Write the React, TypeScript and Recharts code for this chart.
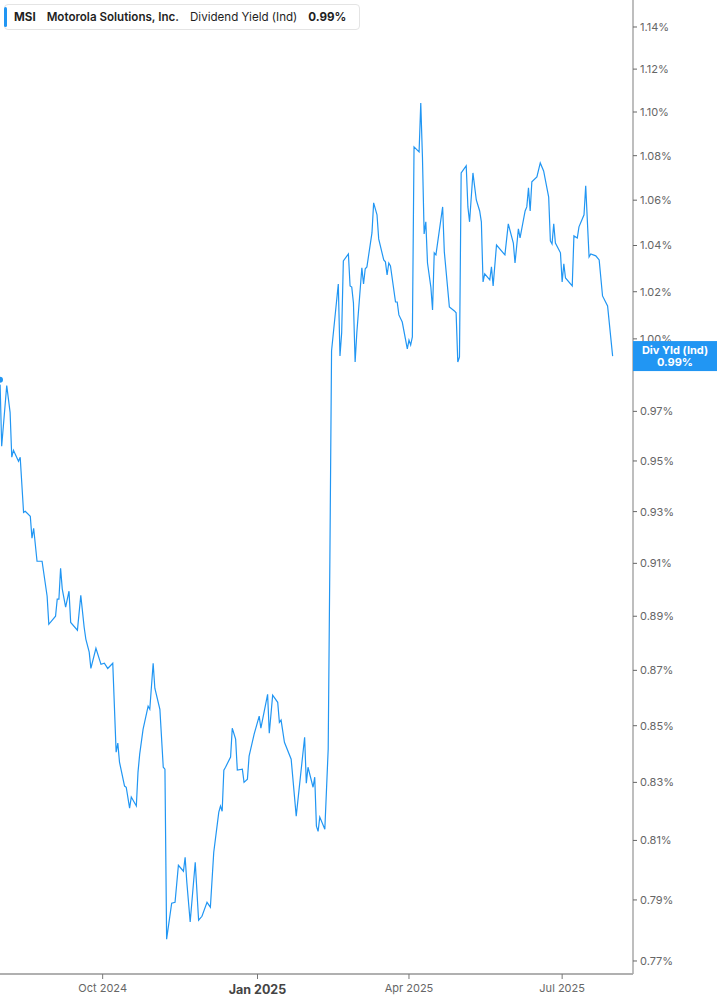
import React from 'react';
import { LineChart, Line, XAxis, YAxis, ReferenceLine } from 'recharts';

const dates = [
  '2024-08-01','2024-08-02','2024-08-05','2024-08-07','2024-08-08','2024-08-09','2024-08-12','2024-08-13','2024-08-15','2024-08-16',
  '2024-08-19','2024-08-20','2024-08-21','2024-08-23','2024-08-26','2024-08-29','2024-08-30','2024-09-03','2024-09-04','2024-09-05',
  '2024-09-06','2024-09-07','2024-09-09','2024-09-11','2024-09-12','2024-09-16','2024-09-18','2024-09-20','2024-09-21','2024-09-23',
  '2024-09-24','2024-09-27','2024-09-30','2024-10-02','2024-10-04','2024-10-07','2024-10-09','2024-10-10','2024-10-11','2024-10-14',
  '2024-10-15','2024-10-17','2024-10-18','2024-10-21','2024-10-22','2024-10-23','2024-10-25','2024-10-28','2024-10-29','2024-10-31',
  '2024-11-01','2024-11-04','2024-11-06','2024-11-07','2024-11-08','2024-11-11','2024-11-13','2024-11-15','2024-11-18','2024-11-19',
  '2024-11-20','2024-11-22','2024-11-25','2024-11-27','2024-11-29','2024-12-02','2024-12-04','2024-12-06','2024-12-09','2024-12-10',
  '2024-12-11','2024-12-12','2024-12-13','2024-12-16','2024-12-17','2024-12-19','2024-12-20','2024-12-23','2024-12-24','2024-12-26',
  '2024-12-27','2024-12-30','2025-01-02','2025-01-03','2025-01-07','2025-01-08','2025-01-10','2025-01-13','2025-01-14','2025-01-15',
  '2025-01-17','2025-01-21','2025-01-24','2025-01-29','2025-01-30','2025-01-31','2025-02-03','2025-02-04','2025-02-05','2025-02-06',
  '2025-02-07','2025-02-10','2025-02-12','2025-02-13','2025-02-14','2025-02-18','2025-02-19','2025-02-20','2025-02-21','2025-02-24',
  '2025-02-25','2025-02-26','2025-02-27','2025-02-28','2025-03-01','2025-03-04','2025-03-05','2025-03-06','2025-03-07','2025-03-10',
  '2025-03-11','2025-03-13','2025-03-14','2025-03-17','2025-03-18','2025-03-19','2025-03-20','2025-03-21','2025-03-24','2025-03-25',
  '2025-03-26','2025-03-28','2025-03-31','2025-04-01','2025-04-02','2025-04-03','2025-04-04','2025-04-07','2025-04-08','2025-04-09',
  '2025-04-10','2025-04-11','2025-04-12','2025-04-14','2025-04-15','2025-04-16','2025-04-17','2025-04-21','2025-04-22','2025-04-25',
  '2025-04-28','2025-04-29','2025-04-30','2025-05-01','2025-05-02','2025-05-05','2025-05-06','2025-05-07','2025-05-09','2025-05-11',
  '2025-05-13','2025-05-14','2025-05-15','2025-05-16','2025-05-19','2025-05-20','2025-05-21','2025-05-23','2025-05-28','2025-05-30',
  '2025-06-02','2025-06-03','2025-06-05','2025-06-06','2025-06-09','2025-06-10','2025-06-11','2025-06-12','2025-06-13','2025-06-16',
  '2025-06-18','2025-06-20','2025-06-23','2025-06-24','2025-06-25','2025-06-26','2025-06-27','2025-06-30','2025-07-01','2025-07-02',
  '2025-07-03','2025-07-07','2025-07-08','2025-07-10','2025-07-11','2025-07-14','2025-07-15','2025-07-17','2025-07-18','2025-07-21',
  '2025-07-23','2025-07-25','2025-07-28','2025-07-31',
];

const yields = [
  0.9830,0.9559,0.9806,0.9696,0.9515,0.9543,0.9499,0.9515,0.9297,0.9301,
  0.9282,0.9197,0.9235,0.9108,0.9108,0.8975,0.8870,0.8900,0.8964,0.8964,
  0.9081,0.9002,0.8934,0.8994,0.8877,0.8848,0.8979,0.8859,0.8815,0.8767,
  0.8707,0.8781,0.8722,0.8726,0.8707,0.8726,0.8406,0.8438,0.8371,0.8287,
  0.8283,0.8211,0.8249,0.8218,0.8336,0.8399,0.8487,0.8570,0.8559,0.8726,
  0.8635,0.8559,0.8353,0.8346,0.7771,0.7889,0.7892,0.8016,0.7996,0.8043,
  0.7959,0.7827,0.8026,0.7833,0.7846,0.7892,0.7876,0.8060,0.8197,0.8218,
  0.8200,0.8343,0.8353,0.8389,0.8491,0.8452,0.8343,0.8346,0.8300,0.8311,
  0.8392,0.8470,0.8534,0.8491,0.8613,0.8473,0.8610,0.8584,0.8512,0.8520,
  0.8441,0.8381,0.8183,0.8459,0.8297,0.8353,0.8283,0.8318,0.8149,0.8131,
  0.8180,0.8138,0.8417,0.9115,0.9950,1.0233,0.9928,1.0025,1.0333,1.0363,
  1.0225,1.0220,1.0152,0.9903,1.0025,1.0303,1.0233,1.0299,1.0307,1.0455,
  1.0588,1.0535,1.0429,1.0337,1.0329,1.0272,1.0324,1.0311,1.0156,1.0156,
  1.0101,1.0071,0.9958,0.9995,0.9974,1.0008,1.0840,1.0817,1.1042,1.0794,
  1.0451,1.0504,1.0324,1.0220,1.0122,1.0368,1.0359,1.0570,1.0372,1.0135,
  1.0118,1.0110,0.9903,0.9924,1.0722,1.0754,1.0570,1.0504,1.0722,1.0601,
  1.0552,1.0504,1.0242,1.0277,1.0251,1.0307,1.0225,1.0402,1.0359,1.0495,
  1.0411,1.0324,1.0473,1.0433,1.0552,1.0570,1.0655,1.0552,1.0682,1.0704,
  1.0767,1.0731,1.0614,1.0420,1.0407,1.0495,1.0411,1.0368,1.0242,1.0320,
  1.0259,1.0225,1.0442,1.0433,1.0482,1.0535,1.0664,1.0350,1.0363,1.0355,
  1.0337,1.0182,1.0139,0.9928,
];

// 0.99% sits behind the last-value badge in the reference, so it is not listed.
const yTicks = [0.77, 0.79, 0.81, 0.83, 0.85, 0.87, 0.89, 0.91, 0.93, 0.95, 0.97, 1.0, 1.02, 1.04, 1.06, 1.08, 1.1, 1.12, 1.14];
const xTickDates = ['2024-10-01', '2025-01-01', '2025-04-01', '2025-07-01'];
const xTickLabels = ['Oct 2024', 'Jan 2025', 'Apr 2025', 'Jul 2025'];
const xBoldLabel = 'Jan 2025';

const ticker = 'MSI';
const company = 'Motorola Solutions, Inc.';
const metric = 'Dividend Yield (Ind)';
const lastValueText = '0.99%';
const badgeTitle = 'Div Yld (Ind)';

const BLUE = '#2196f3';
const FONT = 'Inter, "Liberation Sans", Arial, sans-serif';
const DAY = 86400000;
const toTs = (s: string) => Date.parse(s + 'T00:00:00Z');

const data = dates.map((d, i) => ({ t: toTs(d), v: yields[i] }));
const xTicks = xTickDates.map(toTs);
const xDomain = [toTs('2024-08-01'), toTs('2024-08-01') + 376.1 * DAY];
const yDomain = [0.7658, 1.153];
const lastValue = yields[yields.length - 1];

const W = 717;
const H = 1005;
const Y_AXIS_W = 84;
const X_AXIS_H = 31;

const XTick = (props: any) => {
  const { x, y, payload } = props;
  const i = xTicks.indexOf(payload.value);
  const label = xTickLabels[i];
  const bold = label === xBoldLabel;
  return (
    <text
      x={x}
      y={y + (bold ? 13 : 11)}
      textAnchor="middle"
      fontFamily={FONT}
      fontSize={bold ? 12.5 : 11}
      fontWeight={bold ? 700 : 400}
      fill={bold ? '#444' : '#666'}
    >
      {label}
    </text>
  );
};

const Badge = (props: any) => {
  const vb = props.viewBox || {};
  const right = (vb.x || 0) + (vb.width || 0);
  const cy = vb.y || 0;
  return (
    <g>
      <rect x={right} y={cy - 15} width={Y_AXIS_W} height={30} fill={BLUE} />
      <text x={right + 42} y={cy - 2} textAnchor="middle" fill="#fff" fontFamily={FONT} fontSize={11} fontWeight={700}>
        {badgeTitle}
      </text>
      <text x={right + 42} y={cy + 10} textAnchor="middle" fill="#fff" fontFamily={FONT} fontSize={11} fontWeight={700}>
        {lastValueText}
      </text>
    </g>
  );
};

export default function App() {
  return (
    <div style={{ position: 'absolute', left: 0, top: 0, width: W, height: H, background: '#fff', fontFamily: FONT }}>
      <LineChart width={W} height={H} data={data} margin={{ top: 0, right: 0, bottom: 0, left: 0 }}>
        <XAxis
          dataKey="t"
          type="number"
          scale="time"
          domain={xDomain}
          allowDataOverflow
          ticks={xTicks}
          interval={0}
          height={X_AXIS_H}
          tick={<XTick />}
          tickSize={5}
          tickMargin={2}
          axisLine={{ stroke: '#b0b0b0', strokeWidth: 2 }}
          tickLine={{ stroke: '#777' }}
        />
        <YAxis
          orientation="right"
          scale="log"
          domain={yDomain}
          allowDataOverflow
          ticks={yTicks}
          interval={0}
          width={Y_AXIS_W}
          tickSize={4}
          tickMargin={3}
          tickFormatter={(v: number) => v.toFixed(2) + '%'}
          tick={{ fill: '#666', fontSize: 11, fontFamily: FONT }}
          axisLine={{ stroke: '#a8a8a8', strokeWidth: 1.5 }}
          tickLine={{ stroke: '#666' }}
        />
        <Line
          type="linear"
          dataKey="v"
          stroke={BLUE}
          strokeWidth={1.2}
          dot={false}
          isAnimationActive={false}
        />
      </LineChart>
      {/* overlay chart with the same scales, so the last-value badge is drawn above the axis labels */}
      <div style={{ position: 'absolute', left: 0, top: 0, pointerEvents: 'none' }}>
        <LineChart width={W} height={H} data={data} margin={{ top: 0, right: Y_AXIS_W, bottom: X_AXIS_H, left: 0 }}>
          <XAxis dataKey="t" type="number" scale="time" domain={xDomain} allowDataOverflow hide />
          <YAxis scale="log" domain={yDomain} allowDataOverflow hide />
          <ReferenceLine y={lastValue} stroke="none" label={<Badge />} />
        </LineChart>
      </div>
      <div
        style={{
          position: 'absolute',
          left: 4,
          top: 4,
          height: 26,
          boxSizing: 'border-box',
          paddingLeft: 9,
          paddingRight: 13,
          border: '1px solid #e4e4e4',
          borderRadius: 4,
          background: '#fff',
          display: 'flex',
          alignItems: 'center',
          gap: 11,
          fontSize: 11.6,
          color: '#1f1f1f',
          whiteSpace: 'nowrap',
        }}
      >
        <div style={{ position: 'absolute', left: -1, top: 2, width: 3, height: 20, background: BLUE, borderRadius: 2 }} />
        <span style={{ fontWeight: 700 }}>{ticker}</span>
        <span style={{ fontWeight: 600 }}>{company}</span>
        <span style={{ fontWeight: 400 }}>{metric}</span>
        <span style={{ fontWeight: 700 }}>{lastValueText}</span>
      </div>
    </div>
  );
}
